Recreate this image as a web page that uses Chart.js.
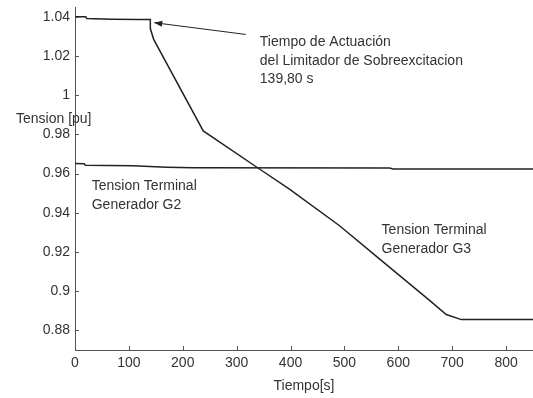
<!DOCTYPE html>
<html>
<head>
<meta charset="utf-8">
<script src="https://cdn.jsdelivr.net/npm/chart.js@4"></script>
<style>
  body { margin: 0; background: #fff; }
  #wrap { width: 533px; height: 398px; }
</style>
</head>
<body>
<div id="wrap"><canvas id="chart" width="533" height="398"></canvas></div>
<script>
// Tension terminal G3 (curva superior)
const g3Time = [0, 20, 22, 68, 120, 139.8, 139.8, 146, 238, 341, 398, 491, 565, 658, 689, 717, 850];
const g3Volt = [1.0400, 1.0400, 1.0391, 1.0388, 1.0386, 1.0386, 1.0340, 1.0285, 0.9818, 0.9626, 0.9521, 0.9334, 0.9165, 0.8953, 0.8881, 0.8855, 0.8855];

// Tension terminal G2
const g2Time = [0, 17, 19, 107, 170, 219, 584, 590, 850];
const g2Volt = [0.9652, 0.9650, 0.9643, 0.9640, 0.9633, 0.9630, 0.9628, 0.9624, 0.9624];

const xTicks = [0, 100, 200, 300, 400, 500, 600, 700, 800];
const yTicks = [0.88, 0.90, 0.92, 0.94, 0.96, 0.98, 1.00, 1.02, 1.04];

const FONT = 'Liberation Sans, Arial, Helvetica, sans-serif';
const TXT = '#333';

function toPoints(xs, ys) {
  return xs.map((x, i) => ({ x: x, y: ys[i] }));
}

// ticks hacia adentro + textos + flecha
const extras = {
  id: 'extras',
  afterDraw(chart) {
    const ctx = chart.ctx;
    const xs = chart.scales.x, ys = chart.scales.y;
    const area = chart.chartArea;
    ctx.save();
    ctx.strokeStyle = '#555';
    ctx.lineWidth = 1;
    xTicks.forEach(v => {
      const px = Math.round(xs.getPixelForValue(v)) + 0.5;
      ctx.beginPath();
      ctx.moveTo(px, area.bottom);
      ctx.lineTo(px, area.bottom - 4);
      ctx.stroke();
    });
    yTicks.forEach(v => {
      const py = Math.round(ys.getPixelForValue(v)) + 0.5;
      ctx.beginPath();
      ctx.moveTo(area.left, py);
      ctx.lineTo(area.left + 4, py);
      ctx.stroke();
    });

    ctx.fillStyle = TXT;
    ctx.font = '14px ' + FONT;
    ctx.textBaseline = 'middle';
    ctx.textAlign = 'left';

    // titulo eje y (horizontal, como en el original)
    ctx.fillText('Tension [pu]', 16, ys.getPixelForValue(0.988));

    const lines = (arr, t, v) => {
      const x0 = xs.getPixelForValue(t), y0 = ys.getPixelForValue(v);
      arr.forEach((s, i) => ctx.fillText(s, x0, y0 + i * 18.5));
    };
    lines(['Tiempo de Actuación', 'del Limitador de Sobreexcitacion', '139,80 s'], 343, 1.027);
    lines(['Tension Terminal', 'Generador G2'], 31, 0.9535);
    lines(['Tension Terminal', 'Generador G3'], 569, 0.931);

    // flecha
    const tx = xs.getPixelForValue(147), ty = ys.getPixelForValue(1.037);
    const sx = xs.getPixelForValue(317), sy = ys.getPixelForValue(1.031);
    ctx.strokeStyle = '#222';
    ctx.fillStyle = '#222';
    ctx.beginPath();
    ctx.moveTo(sx, sy);
    ctx.lineTo(tx, ty);
    ctx.stroke();
    const ang = Math.atan2(ty - sy, tx - sx);
    const L = 8, W = 3;
    ctx.beginPath();
    ctx.moveTo(tx, ty);
    ctx.lineTo(tx - L * Math.cos(ang) + W * Math.sin(ang), ty - L * Math.sin(ang) - W * Math.cos(ang));
    ctx.lineTo(tx - L * Math.cos(ang) - W * Math.sin(ang), ty - L * Math.sin(ang) + W * Math.cos(ang));
    ctx.closePath();
    ctx.fill();
    ctx.restore();
  }
};

new Chart(document.getElementById('chart').getContext('2d'), {
  type: 'line',
  data: {
    datasets: [
      {
        label: 'Tension Terminal Generador G3',
        data: toPoints(g3Time, g3Volt),
        borderColor: '#222',
        borderWidth: 1.5,
        pointRadius: 0,
        tension: 0
      },
      {
        label: 'Tension Terminal Generador G2',
        data: toPoints(g2Time, g2Volt),
        borderColor: '#222',
        borderWidth: 1.5,
        pointRadius: 0,
        tension: 0
      }
    ]
  },
  options: {
    responsive: false,
    animation: false,
    layout: { padding: { top: 7, left: 0, right: 0, bottom: 0 } },
    plugins: { legend: { display: false }, tooltip: { enabled: false } },
    scales: {
      x: {
        type: 'linear',
        min: 0,
        max: 850,
        afterBuildTicks: s => { s.ticks = xTicks.map(v => ({ value: v })); },
        afterFit: s => { s.height = 48; s.paddingLeft = 0; s.paddingRight = 0; },
        grid: { display: false, drawTicks: false },
        border: { display: true, color: '#555', width: 1 },
        ticks: {
          padding: 5,
          maxRotation: 0,
          color: TXT,
          font: { family: FONT, size: 14 },
          callback: v => String(v)
        },
        title: {
          display: true,
          text: 'Tiempo[s]',
          color: TXT,
          font: { family: FONT, size: 14 },
          padding: { top: 0, bottom: 3 }
        }
      },
      y: {
        type: 'linear',
        min: 0.87,
        max: 1.045,
        afterBuildTicks: s => { s.ticks = yTicks.map(v => ({ value: v })); },
        afterFit: s => { s.width = 75; s.paddingTop = 0; s.paddingBottom = 0; },
        grid: { display: false, drawTicks: false },
        border: { display: true, color: '#555', width: 1 },
        ticks: {
          padding: 5,
          color: TXT,
          font: { family: FONT, size: 14 },
          callback: v => String(+v.toFixed(2))
        }
      }
    }
  },
  plugins: [extras]
});
</script>
</body>
</html>
